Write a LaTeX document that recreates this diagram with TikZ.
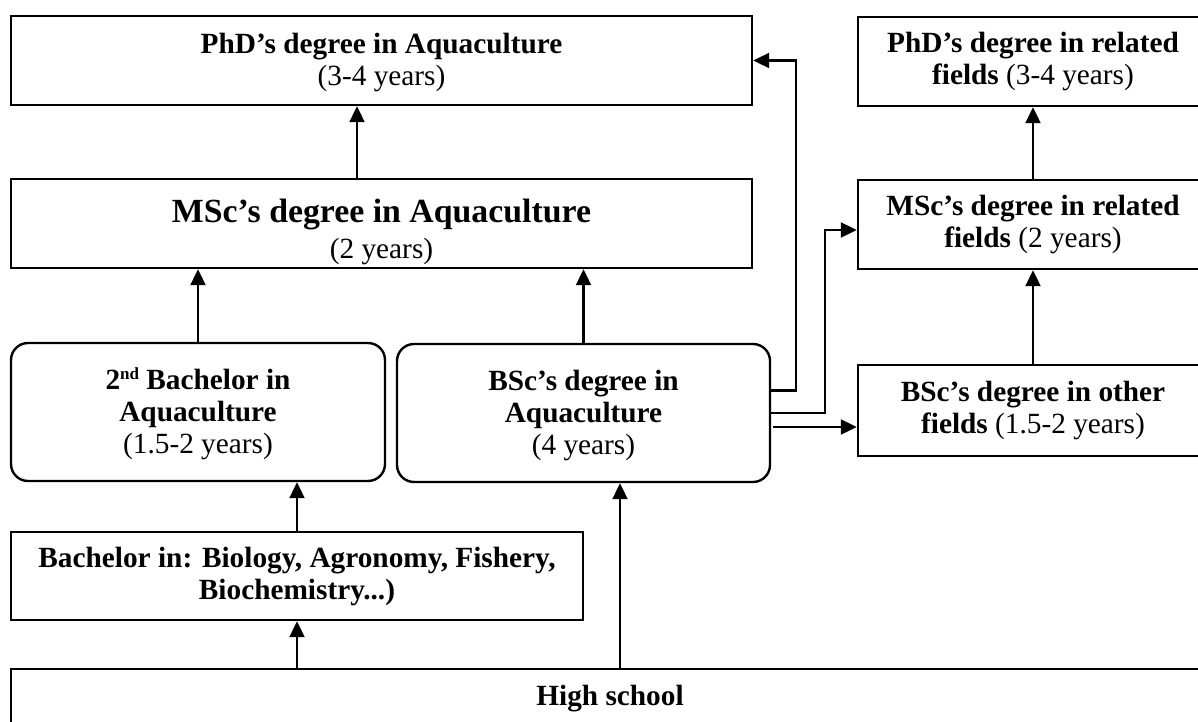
\documentclass[tikz,border=0pt]{standalone}
\usepackage{fontspec}
\setmainfont{Liberation Serif}
\usetikzlibrary{arrows.meta,calc}
\begin{document}
\begin{tikzpicture}[x=1pt,y=-1pt,
  box/.style={draw,line width=2.4pt,align=center,inner sep=0pt,font=\fontsize{29.3}{32}\selectfont},
  rbox/.style={box,rounded corners=17pt},
  arr/.style={line width=2.1pt,-{Triangle[length=16pt,width=15pt]}}]
\useasboundingbox (0,0) rectangle (1198,722);
\fill[white] (0,0) rectangle (1198,722);
\clip (0,0) rectangle (1198,722);

\node[box,minimum width=741pt,minimum height=89pt] (phdaq) at (381.5,60.5)
  {\rule{0pt}{24pt}\textbf{PhD’s degree in Aquaculture}\\(3-4 years)};
\node[box,minimum width=741pt,minimum height=89pt,font=\fontsize{29.3}{36}\selectfont] (mscaq) at (381.5,223.5)
  {\rule{0pt}{41pt}{\fontsize{33.8}{36}\selectfont\bfseries MSc’s degree in Aquaculture}\\(2 years)};
\node[box,minimum width=350pt,minimum height=89pt] (phdrel) at (1033,61.5)
  {\textbf{PhD’s degree in related}\\\textbf{fields} (3-4 years)};
\node[box,minimum width=350pt,minimum height=89pt] (mscrel) at (1033,224.5)
  {\textbf{MSc’s degree in related}\\\textbf{fields} (2 years)};
\node[box,minimum width=350pt,minimum height=91pt] (bscoth) at (1033,410.5)
  {\textbf{BSc’s degree in other}\\\textbf{fields} (1.5-2 years)};
\node[rbox,minimum width=374pt,minimum height=138pt] (bach2) at (198,412)
  {\rule{0pt}{26pt}\textbf{2\raisebox{10pt}{\fontsize{17}{17}\selectfont nd} Bachelor in}\\\textbf{Aquaculture}\\(1.5-2 years)};
\node[rbox,minimum width=373pt,minimum height=138pt] (bsc) at (583.5,413)
  {\rule{0pt}{26pt}\textbf{BSc’s degree in}\\\textbf{Aquaculture}\\(4 years)};
\node[box,minimum width=572pt,minimum height=88pt] (bachin) at (297,576)
  {\textbf{Bachelor in: Biology, Agronomy, Fishery,}\\\textbf{Biochemistry...)}};
\node[box,minimum width=1198pt,minimum height=59pt] (hs) at (610,698.5)
  {\textbf{High school}};

\coordinate (hsb) at ($(hs.north)+(10,0)$);
\coordinate (b1) at ($(bsc.east)+(0,-22.5)$);
\coordinate (b3) at ($(bsc.east)+(2,14)$);

\draw[arr] ($(mscaq.north)+(-24.5,0)$) -- ($(phdaq.south)+(-24.5,0)$);
\draw[arr] (bach2.north) -- (bach2.north |- mscaq.south);
\draw[arr] (bsc.north) -- (bsc.north |- mscaq.south);
\draw[arr] (mscrel.north) -- (phdrel.south);
\draw[arr] (bscoth.north) -- (mscrel.south);
\draw[arr] (bachin.north) -- (bachin.north |- bach2.south);
\draw[arr] (bachin.south |- hs.north) -- (bachin.south);
\draw[arr] (hsb) -- (hsb |- bsc.south);
\draw[arr] (b1) -- ++(25,0) |- (phdaq.east);
\draw[arr] (bsc.east) -- ++(54,0) |- ($(mscrel.west)+(0,5.5)$);
\draw[arr] (b3) -- (bscoth.west |- b3);
\end{tikzpicture}
\end{document}
